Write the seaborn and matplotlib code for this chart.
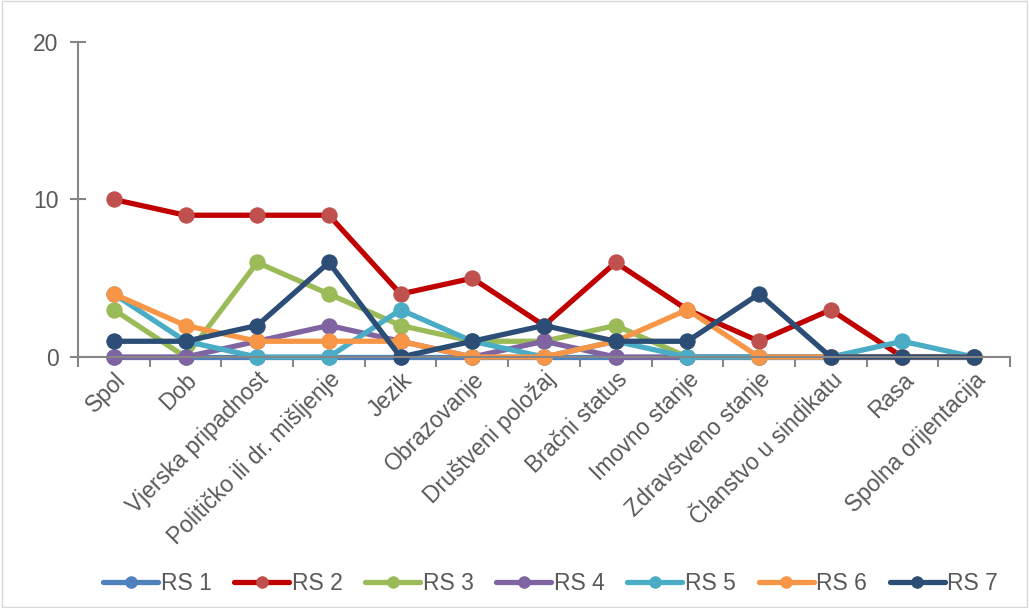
import numpy as np
import pandas as pd
import matplotlib
matplotlib.use("Agg")
import matplotlib.pyplot as plt
import seaborn as sns
from matplotlib.patches import Rectangle

categories = ["Spol", "Dob", "Vjerska pripadnost", "Političko ili dr. mišljenje", "Jezik",
              "Obrazovanje", "Društveni položaj", "Bračni status", "Imovno stanje",
              "Zdravstveno stanje", "Članstvo u sindikatu", "Rasa", "Spolna orijentacija"]

rs1 = [0, 0, 0, 0, 0, 0, 0, 0, 0, 0, 0, 0, 0]
rs2 = [10, 9, 9, 9, 4, 5, 2, 6, 3, 1, 3, 0, 0]
rs3 = [3, 0, 6, 4, 2, 1, 1, 2, 0, 0, 0, 0, 0]
rs4 = [0, 0, 1, 2, 1, 0, 1, 0, 0, 0, 0, 0, 0]
rs5 = [4, 1, 0, 0, 3, 1, 0, 1, 0, 0, 0, 1, 0]
rs6 = [4, 2, 1, 1, 1, 0, 0, 1, 3, 0, 0, 0, 0]
rs7 = [1, 1, 2, 6, 0, 1, 2, 1, 1, 4, 0, 0, 0]

series_names = ["RS 1", "RS 2", "RS 3", "RS 4", "RS 5", "RS 6", "RS 7"]
series_values = [rs1, rs2, rs3, rs4, rs5, rs6, rs7]
line_colors = ["#4F81BD", "#C00000", "#9BBB59", "#8064A2", "#4BACC6", "#F79646", "#2C4D75"]
marker_colors = ["#4F81BD", "#C0504D", "#9BBB59", "#8064A2", "#4BACC6", "#F79646", "#2C4D75"]

sns.set_style("white")
plt.rcParams["font.family"] = ["Liberation Sans", "DejaVu Sans"]
text_color = "#595959"
axis_color = "#868686"
fs = 16.5

fig = plt.figure(figsize=(10.29, 6.08), dpi=100)
ax = fig.add_axes([0.0758, 0.4128, 0.9057, 0.5182])

x = np.arange(len(categories))
for name, vals, lc, mc in zip(series_names, series_values, line_colors, marker_colors):
    df = pd.DataFrame({"x": x, "y": vals})
    sns.lineplot(data=df, x="x", y="y", ax=ax, color=lc, linewidth=3.8,
                 marker="o", markersize=11, markerfacecolor=mc, markeredgecolor=mc,
                 label=name, sort=False)

ax.set_xlim(-0.5, len(categories) - 0.5)
ax.set_ylim(0, 20)
ax.set_yticks([0, 10, 20])
ax.set_xticks(x)
ax.set_xticklabels(categories, rotation=45, ha="right", rotation_mode="anchor",
                   fontsize=fs, color=text_color)
ax.set_xticks(np.arange(-0.5, len(categories), 1), minor=True)
ax.tick_params(axis="x", which="major", bottom=True, length=0, pad=8)
ax.tick_params(axis="x", which="minor", bottom=True, length=7, width=1.5,
               color=axis_color, direction="out")
ax.tick_params(axis="y", left=True, length=12, width=1.5, color=axis_color, direction="inout",
               labelsize=fs, labelcolor=text_color, pad=8)
ax.set_xlabel("")
ax.set_ylabel("")
for side in ["top", "right"]:
    ax.spines[side].set_visible(False)
for side in ["left", "bottom"]:
    ax.spines[side].set_color(axis_color)
    ax.spines[side].set_linewidth(1.5)
for line in ax.lines:
    line.set_clip_on(False)

leg = ax.legend(loc="center", ncol=7, frameon=False, fontsize=fs, handlelength=2.4,
                handletextpad=0.1, columnspacing=1.0, markerscale=0.75)
leg.set_bbox_to_anchor((0.535, 0.04), transform=fig.transFigure)
for t in leg.get_texts():
    t.set_color(text_color)

fig.patches.append(Rectangle((0.002, 0.002), 0.996, 0.996, transform=fig.transFigure,
                             fill=False, edgecolor="#D9D9D9", linewidth=1))

fig.savefig("out.png", dpi=100)
